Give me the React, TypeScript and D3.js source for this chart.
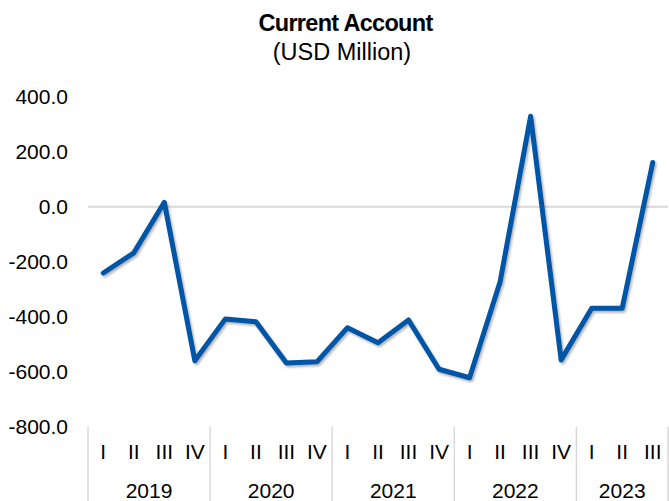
import React from "react";
import * as d3 from "d3";

const years = ["2019", "2020", "2021", "2022", "2023"];
const quarterNames = ["I", "II", "III", "IV"];
const quartersPerYear = [4, 4, 4, 4, 3];
const values = [
  -241, -168, 16, -560,
  -408, -418, -568, -564,
  -440, -495, -412, -591,
  -622, -273, 329, -557,
  -369, -369, 161,
];
const yTicks = [400, 200, 0, -200, -400, -600, -800];
const title = "Current Account";
const subtitle = "(USD Million)";

const W = 669;
const H = 501;
const left = 88;
const right = 668;
const top = 96.7;
const bottom = 426.7;
const font = "Liberation Sans, Arial, sans-serif";

export default function App() {
  const cats: { key: string; q: string; year: string }[] = [];
  years.forEach((y, i) => {
    for (let k = 0; k < quartersPerYear[i]; k++) {
      cats.push({ key: `${y}-${quarterNames[k]}`, q: quarterNames[k], year: y });
    }
  });
  const x = d3.scaleBand<string>().domain(cats.map((c) => c.key)).range([left, right]).padding(0);
  const y = d3.scaleLinear().domain([-800, 400]).range([bottom, top]);
  const line = d3
    .line<number>()
    .x((_, i) => (x(cats[i].key) as number) + x.bandwidth() / 2)
    .y((d) => y(d));
  const fmt = (v: number) => d3.format(".1f")(v).replace("\u2212", "-");

  const yearBounds: { year: string; x0: number; x1: number }[] = [];
  let idx = 0;
  years.forEach((yr, i) => {
    const first = cats[idx].key;
    const last = cats[idx + quartersPerYear[i] - 1].key;
    yearBounds.push({ year: yr, x0: x(first) as number, x1: (x(last) as number) + x.bandwidth() });
    idx += quartersPerYear[i];
  });

  return (
    <svg
      width={W}
      height={H}
      style={{ position: "absolute", left: 0, top: 0, background: "#fff" }}
      fontFamily={font}
    >
      <defs>
        <filter id="shadow" x="-10%" y="-10%" width="120%" height="130%">
          <feDropShadow dx="1.5" dy="2" stdDeviation="1.2" floodColor="#000" floodOpacity="0.3" />
        </filter>
      </defs>
      <text x={345.5} y={31} textAnchor="middle" fontSize={23.5} fontWeight="bold" letterSpacing={-0.7} fill="#000">
        {title}
      </text>
      <text x={342} y={60} textAnchor="middle" fontSize={23.5} fill="#000">
        {subtitle}
      </text>
      {yTicks.map((t) => (
        <text key={t} x={68} y={y(t) + 7.5} textAnchor="end" fontSize={21} fill="#000">
          {fmt(t)}
        </text>
      ))}
      <line x1={left} x2={right} y1={y(0)} y2={y(0)} stroke="#D9D9D9" strokeWidth={2} />
      {yearBounds.map((b, i) => (
        <g key={b.year}>
          <line x1={b.x0} x2={b.x0} y1={bottom} y2={H} stroke="#D9D9D9" strokeWidth={1.5} />
          {i === yearBounds.length - 1 && (
            <line x1={b.x1} x2={b.x1} y1={bottom} y2={H} stroke="#D9D9D9" strokeWidth={1.5} />
          )}
          <text x={(b.x0 + b.x1) / 2} y={498} textAnchor="middle" fontSize={21} fill="#000">
            {b.year}
          </text>
        </g>
      ))}
      {cats.map((c) => (
        <text
          key={c.key}
          x={(x(c.key) as number) + x.bandwidth() / 2}
          y={459}
          textAnchor="middle"
          fontSize={21}
          fill="#000"
        >
          {c.q}
        </text>
      ))}
      <path
        d={line(values) || ""}
        fill="none"
        stroke="#0054A6"
        strokeWidth={5}
        strokeLinejoin="round"
        strokeLinecap="round"
        filter="url(#shadow)"
      />
    </svg>
  );
}
